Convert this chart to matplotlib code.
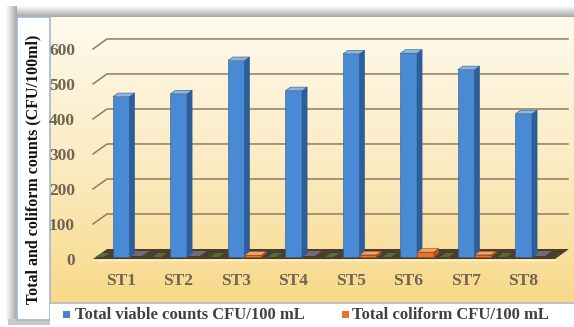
import numpy as np
import matplotlib.pyplot as plt
from matplotlib.patches import Polygon, Rectangle

# data
stations = ["ST1", "ST2", "ST3", "ST4", "ST5", "ST6", "ST7", "ST8"]
viable = [458, 466, 561, 475, 580, 582, 535, 409]
coliform = [0, 0, 5, 0, 6, 14, 6, 0]
yticks = [0, 100, 200, 300, 400, 500, 600]
series_names = ["Total viable counts CFU/100 mL", "Total coliform CFU/100 mL"]
ylabel = "Total and coliform counts (CFU/100ml)"

W, H = 574, 327
serif = ["Liberation Serif", "DejaVu Serif"]

fig = plt.figure(figsize=(W / 100, H / 100), dpi=100)

# ---- frame / background in pixel coordinates ----
bg = fig.add_axes([0, 0, 1, 1])
bg.set_xlim(0, W)
bg.set_ylim(H, 0)
bg.axis("off")

def vgrad(c1, c2, n=200):
    c1 = np.array(plt.matplotlib.colors.to_rgb(c1))
    c2 = np.array(plt.matplotlib.colors.to_rgb(c2))
    t = np.linspace(0, 1, n)[:, None]
    return (c1 * (1 - t) + c2 * t)[:, None, :]

# shadow on top and left
bg.imshow(vgrad("#ffffff", "#a4a4a4"), extent=[8, W, 17, 6], aspect="auto")
bg.imshow(np.transpose(vgrad("#ffffff", "#a4a4a4"), (1, 0, 2)),
          extent=[6, 17, 322, 6], aspect="auto")
bg.add_patch(Rectangle((8, 319), 42, 6, color="#c8c8c8", lw=0))

# chart area gradient
grad = np.vstack([vgrad("#fffaee", "#fcecc4", 100), vgrad("#fcecc4", "#f8d98a", 100)])
bg.imshow(grad, extent=[50, W, 302, 17], aspect="auto")

# left title panel
bg.add_patch(Rectangle((17, 17), 33, 303, facecolor="white",
                       edgecolor="#9fb6d3", lw=1.2))
bg.text(33, 169, ylabel, rotation=90, ha="center", va="center",
        fontsize=11.5, fontweight="bold", family=serif, color="#111111")

# legend strip
bg.add_patch(Rectangle((50, 302), W - 50, 25, facecolor="white", lw=0))
bg.plot([50, W], [302.5, 302.5], color="#b5b5b5", lw=1.2)

# ---- main plotting axes (oblique 3D look) ----
ax = fig.add_axes([93 / W, 1 - 262 / H, (568 - 93) / W, (262 - 36) / H])
ax.patch.set_alpha(0)
for s in ax.spines.values():
    s.set_visible(False)
x_lo, x_hi = -0.487, 7.774
ax.set_xlim(x_lo, x_hi)
ax.set_ylim(-8.57, 637)

DX = 14 / 57.5   # depth offset in category units
DY = 10 / 0.35   # depth offset in value units

grid_c = "#8c7d64"
for v in yticks[1:]:
    ax.plot([x_lo, x_lo + DX, x_hi], [v, v + DY, v + DY],
            color=grid_c, lw=1.1, clip_on=False, zorder=1)

# floor
fx0, fx1 = x_lo, 7.548
ax.add_patch(Polygon([(fx0, 0), (fx1, 0), (fx1 + DX, DY), (fx0 + DX, DY)],
                     closed=True, facecolor="#4a3f2e", edgecolor="none",
                     zorder=2, clip_on=False))
for i in range(len(stations)):
    s0 = i + 0.12
    ax.add_patch(Polygon([(s0, 0.3 * DY), (s0 + 0.25, 0.3 * DY),
                          (s0 + 0.25 + 0.5 * DX, 0.8 * DY), (s0 + 0.5 * DX, 0.8 * DY)],
                         closed=True, facecolor="#9a8db0", alpha=0.55,
                         edgecolor="none", zorder=2))
    ax.add_patch(Polygon([(i - 0.45, 0.2 * DY), (i - 0.3, 0.2 * DY),
                          (i - 0.3 + 0.4 * DX, 0.6 * DY), (i - 0.45 + 0.4 * DX, 0.6 * DY)],
                         closed=True, facecolor="#5b8a4a", alpha=0.6,
                         edgecolor="none", zorder=2))
ax.plot([fx0, fx1], [-2, -2], color="#fff3cc", lw=1, zorder=2, clip_on=False)

f0, fd = 0.2, 0.36
bw = 0.29

def bar3d(x, h, front, side, top, edge):
    if h <= 0:
        return
    bx = x + f0 * DX
    by = f0 * DY
    dx, dy = fd * DX, fd * DY
    ax.bar(bx, h, width=bw, bottom=by, align="edge", color=front,
           edgecolor=edge, linewidth=0.4, zorder=3)
    ax.add_patch(Polygon([(bx + bw, by), (bx + bw + dx, by + dy),
                          (bx + bw + dx, by + h + dy), (bx + bw, by + h)],
                         closed=True, facecolor=side, edgecolor=edge,
                         lw=0.4, zorder=3))
    ax.add_patch(Polygon([(bx, by + h), (bx + bw, by + h),
                          (bx + bw + dx, by + h + dy), (bx + dx, by + h + dy)],
                         closed=True, facecolor=top, edgecolor=edge,
                         lw=0.4, zorder=3))

for i in range(len(stations)):
    bar3d(i - 0.19, viable[i], "#4a8ad4", "#2d5e9c", "#8ab6e6", "#2b5688")
    bar3d(i - 0.19 + bw, coliform[i], "#e8742c", "#b3561c", "#f4a365", "#9c4a18")

tick_c = "#6f6550"
ax.set_yticks(yticks)
ax.set_yticklabels([str(v) for v in yticks])
ax.set_xticks(range(len(stations)))
ax.set_xticklabels(stations)
ax.tick_params(axis="y", length=0, pad=13, labelcolor=tick_c)
ax.tick_params(axis="x", length=0, pad=8, labelcolor=tick_c)
for lab in ax.get_xticklabels() + ax.get_yticklabels():
    lab.set_fontfamily(serif)
    lab.set_fontweight("bold")
    lab.set_fontsize(12.5)

# legend entries
bg.add_patch(Rectangle((63, 311), 7, 7, color="#4683cc", lw=0))
bg.text(75, 315, series_names[0], ha="left", va="center", fontsize=12,
        fontweight="bold", family=serif, color="#404040")
bg.add_patch(Rectangle((342, 311), 7, 7, color="#e8742c", lw=0))
bg.text(352, 315, series_names[1], ha="left", va="center", fontsize=12,
        fontweight="bold", family=serif, color="#404040")

fig.savefig("out.png", dpi=100)
